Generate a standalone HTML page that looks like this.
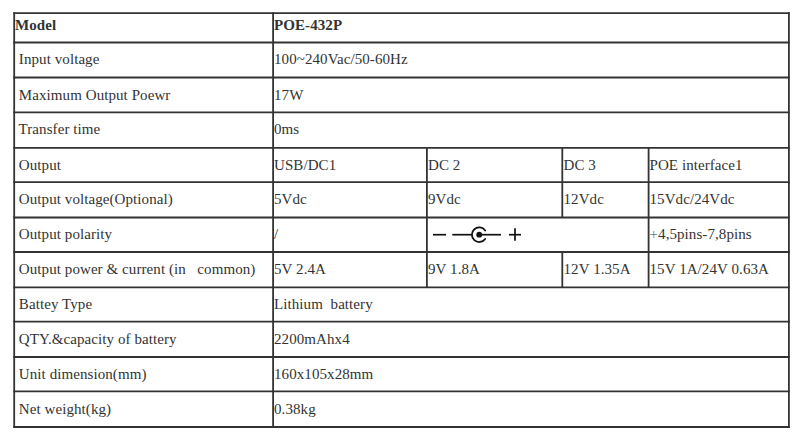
<!DOCTYPE html>
<html><head><meta charset="utf-8"><style>
html,body{margin:0;padding:0;background:#fff;}
#wrap{position:relative;width:800px;height:441px;overflow:hidden;background:#fff;}
svg{position:absolute;left:0;top:0;}
.t{position:absolute;font-family:"Liberation Serif",serif;font-size:15px;line-height:20px;white-space:pre;letter-spacing:0.08px;color:#333;}
.b{font-weight:bold;}
</style></head><body><div id="wrap">
<div class="t b" style="left:15px;top:15px">Model</div><div class="t b" style="left:274px;top:15px">POE-432P</div><div class="t" style="left:15px;top:49px"> Input voltage</div><div class="t" style="left:274px;top:49px">100~240Vac/50-60Hz</div><div class="t" style="left:15px;top:85px"> Maximum Output Poewr</div><div class="t" style="left:274px;top:85px">17W</div><div class="t" style="left:15px;top:119px"> Transfer time</div><div class="t" style="left:274px;top:119px">0ms</div><div class="t" style="left:15px;top:155px"> Output</div><div class="t" style="left:274px;top:155px">USB/DC1</div><div class="t" style="left:428px;top:155px">DC 2</div><div class="t" style="left:563.5px;top:155px">DC 3</div><div class="t" style="left:649.5px;top:155px">POE interface1</div><div class="t" style="left:15px;top:189px"> Output voltage(Optional)</div><div class="t" style="left:274px;top:189px">5Vdc</div><div class="t" style="left:428px;top:189px">9Vdc</div><div class="t" style="left:563.5px;top:189px">12Vdc</div><div class="t" style="left:649.5px;top:189px">15Vdc/24Vdc</div><div class="t" style="left:15px;top:224px"> Output polarity</div><div class="t" style="left:274px;top:224px">/</div><div class="t" style="left:649.5px;top:224px"><span style="color:#777">+</span>4,5pins-7,8pins</div><div class="t" style="left:15px;top:259px"> Output power &amp; current (in   common)</div><div class="t" style="left:274px;top:259px">5V 2.4A</div><div class="t" style="left:428px;top:259px">9V 1.8A</div><div class="t" style="left:563.5px;top:259px">12V 1.35A</div><div class="t" style="left:649.5px;top:259px">15V 1A/24V 0.63A</div><div class="t" style="left:15px;top:294px"> Battey Type</div><div class="t" style="left:274px;top:294px">Lithium  battery</div><div class="t" style="left:15px;top:329px"> QTY.&amp;capacity of battery</div><div class="t" style="left:274px;top:329px">2200mAhx4</div><div class="t" style="left:15px;top:364px"> Unit dimension(mm)</div><div class="t" style="left:274px;top:364px">160x105x28mm</div><div class="t" style="left:15px;top:399px"> Net weight(kg)</div><div class="t" style="left:274px;top:399px">0.38kg</div>
<svg width="800" height="441" viewBox="0 0 800 441"><g stroke="#333" stroke-width="1.8"><line x1="13.299999999999999" y1="13.1" x2="789.8" y2="13.1"/><line x1="13.299999999999999" y1="42.5" x2="789.8" y2="42.5"/><line x1="13.299999999999999" y1="77.5" x2="789.8" y2="77.5"/><line x1="13.299999999999999" y1="112.3" x2="789.8" y2="112.3"/><line x1="13.299999999999999" y1="147.9" x2="789.8" y2="147.9"/><line x1="13.299999999999999" y1="182.2" x2="789.8" y2="182.2"/><line x1="13.299999999999999" y1="217.5" x2="789.8" y2="217.5"/><line x1="13.299999999999999" y1="252.0" x2="789.8" y2="252.0"/><line x1="13.299999999999999" y1="287.3" x2="789.8" y2="287.3"/><line x1="13.299999999999999" y1="321.6" x2="789.8" y2="321.6"/><line x1="13.299999999999999" y1="357.0" x2="789.8" y2="357.0"/><line x1="13.299999999999999" y1="391.3" x2="789.8" y2="391.3"/><line x1="13.299999999999999" y1="427.0" x2="789.8" y2="427.0"/><line x1="14.2" y1="12.2" x2="14.2" y2="427.9"/><line x1="788.9" y1="12.2" x2="788.9" y2="427.9"/><line x1="273.1" y1="12.2" x2="273.1" y2="427.9"/><line x1="426.9" y1="147.9" x2="426.9" y2="287.3"/><line x1="648.6" y1="147.9" x2="648.6" y2="287.3"/><line x1="562.3" y1="147.9" x2="562.3" y2="217.5"/><line x1="562.3" y1="252.0" x2="562.3" y2="287.3"/></g><g stroke="#111" fill="none" stroke-width="1.7">
<line x1="433" y1="234.7" x2="446" y2="234.7"/>
<line x1="452.3" y1="234.7" x2="472" y2="234.7"/>
<line x1="479.2" y1="234.7" x2="501" y2="234.7"/>
<path d="M485.18,230.51 A7.3,7.3 0 1 0 485.18,238.89" stroke-width="1.75" stroke-linecap="round"/>
<line x1="509" y1="234.7" x2="521" y2="234.7"/>
<line x1="515" y1="228.3" x2="515" y2="240.8"/>
</g>
<circle cx="479.2" cy="234.7" r="2.9" fill="#111"/></svg>
</div></body></html>
